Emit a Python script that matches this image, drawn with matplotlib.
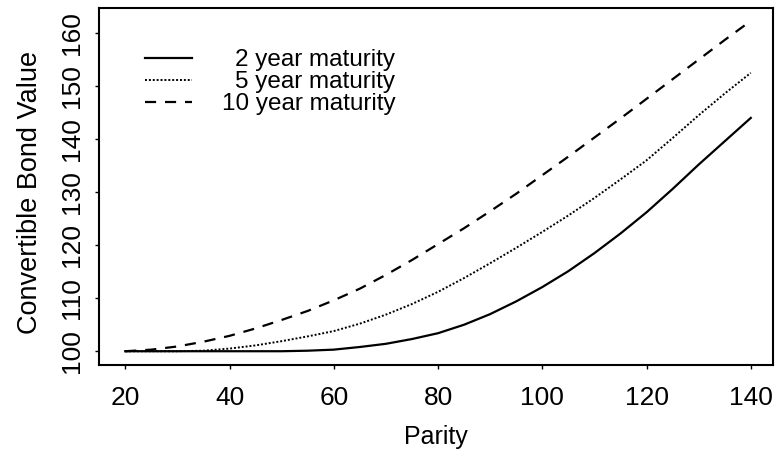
import matplotlib
matplotlib.use("Agg")
import matplotlib.pyplot as plt

# parity grid and convertible bond values
parity = [20, 25, 30, 35, 40, 45, 50, 55, 60, 65, 70, 75, 80,
          85, 90, 95, 100, 105, 110, 115, 120, 125, 130, 135, 140]
value_2y = [100.0, 100.0, 100.0, 100.0, 100.0, 100.0, 100.0, 100.1, 100.3, 100.8, 101.4, 102.3, 103.4,
            105.0, 107.0, 109.4, 112.1, 115.1, 118.5, 122.2, 126.2, 130.6, 135.2, 139.6, 144.0]
value_5y = [100.0, 100.0, 100.0, 100.1, 100.5, 101.1, 101.9, 102.8, 103.8, 105.2, 106.9, 108.9, 111.2,
            113.8, 116.6, 119.5, 122.5, 125.6, 128.9, 132.4, 136.0, 140.2, 144.5, 148.6, 152.5]
value_10y = [100.0, 100.3, 100.9, 101.8, 102.9, 104.3, 105.9, 107.6, 109.6, 111.8, 114.4, 117.2, 120.2,
             123.2, 126.4, 129.7, 133.2, 136.7, 140.3, 143.9, 147.6, 151.3, 155.0, 158.7, 162.3]

x_ticks = [20, 40, 60, 80, 100, 120, 140]
y_ticks = [100, 110, 120, 130, 140, 150, 160]

plt.rcParams['font.family'] = ['Liberation Sans', 'DejaVu Sans']

fig = plt.figure(figsize=(7.75, 4.54), dpi=100)
ax = fig.add_axes([0.128, 0.196, 0.869, 0.786])

ax.plot(parity, value_2y, color='black', lw=1.6, ls='-', label='2 year maturity')
ax.plot(parity, value_5y, color='black', lw=1.4, ls=(0, (1, 1)), label='5 year maturity')
ax.plot(parity, value_10y, color='black', lw=1.6, ls=(0, (5, 4)), label='10 year maturity')

ax.set_xlim(15, 144.2)
ax.set_ylim(97.4, 164.7)
ax.set_xticks(x_ticks)
ax.set_yticks(y_ticks)
ax.tick_params(direction='out', length=3, width=1, labelsize=19)
ax.tick_params(axis='x', pad=12)
ax.tick_params(axis='y', pad=8)
for lbl in ax.get_yticklabels():
    lbl.set_rotation(90)
    lbl.set_va('center')

for s in ax.spines.values():
    s.set_linewidth(1.5)

ax.set_xlabel('Parity', fontsize=18, labelpad=11)
ax.set_ylabel('Convertible Bond Value', fontsize=19.5, labelpad=12)
ax.yaxis.label.set_y(0.485)

leg = ax.legend(loc='upper left', bbox_to_anchor=(0.068, 0.885), frameon=False,
                fontsize=17.5, handlelength=1.95, handletextpad=1.2,
                labelspacing=0.0, borderaxespad=0, borderpad=0)
# right-align the labels by shifting the shorter ones
renderer = fig.canvas.get_renderer()
widths = [t.get_window_extent(renderer).width for t in leg.get_texts()]
wmax = max(widths)
for t, w in zip(leg.get_texts(), widths):
    t.set_position((wmax - w, 0))

fig.savefig('out.png', dpi=100)
